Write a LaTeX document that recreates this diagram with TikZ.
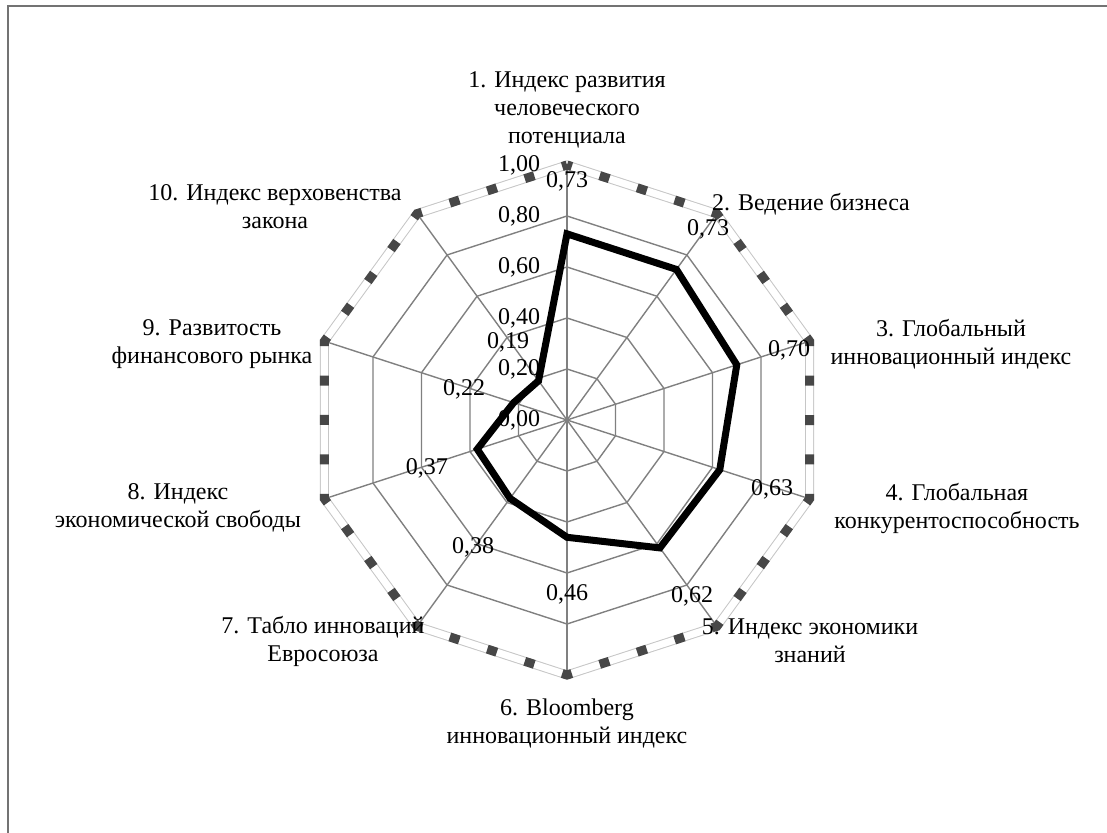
\documentclass[tikz,border=0pt]{standalone}
\usepackage{fontspec}
\setmainfont{Liberation Serif}

\begin{document}
\begin{tikzpicture}
  [x=1pt,y=1pt,
    every node/.style={font=\fontsize{24}{28}\selectfont,inner sep=0pt},
    catlabel/.style={align=center},
    gridline/.style={draw=gray,line width=1.4pt},
    rim base/.style={draw=gray!45,line width=9pt},
    rim fill/.style={draw=white,line width=7pt},
    rim dash/.style={draw=black!72,line width=9pt,dash pattern=on 10pt off 29.4pt,dash phase=5pt},
    dataline/.style={draw=black,line width=7pt},
]
  \useasboundingbox (-567,-412) rectangle (540,420);
  % frame
  \draw[draw=black!55,line width=2.2pt] (-559,414) rectangle (620,-460);

  \coordinate (c) at (0,0);
  \foreach \k in {1,...,10}
    \coordinate (o\k) at ({90-36*(\k-1)}:255);

  % grid
  \foreach \r in {51,102,153,204}
    \draw[gridline] (90:\r) \foreach \a in {1,...,9} {-- ({90-36*\a}:\r)} -- cycle;
  \foreach \k in {1,...,10}
    \draw[gridline] (c) -- (o\k);

  % outer ring
  \foreach \s in {rim base,rim fill,rim dash}
    \draw[\s] (o1) -- (o2) -- (o3) -- (o4) -- (o5) -- (o6) -- (o7) -- (o8) -- (o9) -- (o10) -- cycle;

  % data
  \foreach \k/\v in {1/0.73,2/0.73,3/0.70,4/0.63,5/0.62,6/0.46,7/0.38,8/0.37,9/0.22,10/0.19}
    \coordinate (p\k) at ({90-36*(\k-1)}:{255*\v});
  \draw[dataline] (p1) -- (p2) -- (p3) -- (p4) -- (p5) -- (p6) -- (p7) -- (p8) -- (p9) -- (p10) -- cycle;

  % axis ticks
  \foreach \i/\t in {0/0,1/2,2/4,3/6,4/8}
    \node (t\i) at (-48,{51*\i}) {0,\t0};
  \node (t5) at (-48,255) {1,00};

  % values
  \node (v1) at (0,239) {0,73};
  \node (v2) at (141,191) {0,73};
  \node (v3) at (222,70) {0,70};
  \node (v4) at (205,-69) {0,63};
  \node (v5) at (125,-176) {0,62};
  \node (v6) at (0,-174) {0,46};
  \node (v7) at (-94,-127) {0,38};
  \node (v8) at (-140,-48) {0,37};
  \node (v9) at (-103,31) {0,22};
  \node (v10) at (-59,78) {0,19};

  % categories
  \node[catlabel] (n1) at (0,310) {1. Индекс развития\\человеческого\\потенциала};
  \node[catlabel] (n2) at (244,216) {2. Ведение бизнеса};
  \node[catlabel] (n3) at (384,76) {3. Глобальный\\инновационный индекс};
  \node[catlabel] (n4) at (390,-88) {4. Глобальная\\конкурентоспособность};
  \node[catlabel] (n5) at (243,-221) {5. Индекс экономики\\знаний};
  \node[catlabel] (n6) at (0,-303) {6. Bloomberg\\инновационный индекс};
  \node[catlabel] (n7) at (-244,-221) {7. Табло инноваций\\Евросоюза};
  \node[catlabel] (n8) at (-389,-88) {8. Индекс\\экономической свободы};
  \node[catlabel] (n9) at (-355,76) {9. Развитость\\финансового рынка};
  \node[catlabel] (n10) at (-292,213) {10. Индекс верховенства\\закона};
\end{tikzpicture}
\end{document}
